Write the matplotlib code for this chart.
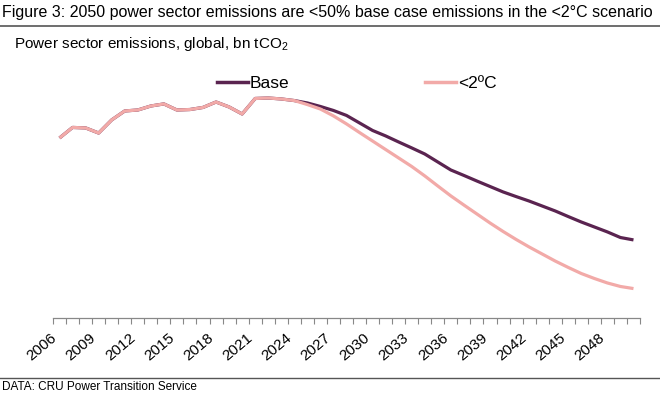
import numpy as np
import matplotlib.pyplot as plt
from matplotlib.lines import Line2D

plt.rcParams['font.family'] = ['Liberation Sans', 'DejaVu Sans']
plt.rcParams['mathtext.fontset'] = 'custom'
plt.rcParams['mathtext.rm'] = 'Liberation Sans'
plt.rcParams['mathtext.default'] = 'regular'

# dados (bn tCO2)
anos = list(range(2006, 2051))
historico = [11.25, 11.91, 11.88, 11.56, 12.38, 12.94, 13.0, 13.25, 13.38, 13.0,
             13.03, 13.16, 13.5, 13.19, 12.75, 13.72, 13.75, 13.69, 13.59]
base_proj = [13.44, 13.22, 12.97, 12.66, 12.19, 11.72, 11.38, 11.0, 10.63, 10.25,
             9.75, 9.25, 8.91, 8.56, 8.22, 7.88, 7.59, 7.31, 7.0, 6.69,
             6.34, 6.0, 5.69, 5.38, 5.03, 4.88]
abaixo2_proj = [13.34, 13.06, 12.63, 12.13, 11.59, 11.06, 10.53, 10.0, 9.47, 8.88,
                8.25, 7.63, 7.06, 6.5, 5.94, 5.41, 4.91, 4.44, 4.0, 3.56,
                3.16, 2.78, 2.47, 2.19, 1.97, 1.84]
base = historico + base_proj
abaixo2 = historico + abaixo2_proj
rotulos = list(range(2006, 2049, 3))

cor_base = '#5a2450'
cor_2c = '#f2aaa8'

fig = plt.figure(figsize=(6.6, 3.94), dpi=100)
W, H = 660, 394

# eixo principal em pixels da figura
esq, dir_, baixo, topo = 53, 640, 318, 70
ax = fig.add_axes([esq / W, 1 - baixo / H, (dir_ - esq) / W, (baixo - topo) / H])

ax.plot(anos, base, color=cor_base, lw=2.3, solid_joinstyle='round', solid_capstyle='butt')
ax.plot(anos, abaixo2, color=cor_2c, lw=2.3, solid_joinstyle='round', solid_capstyle='butt')

ax.set_xlim(2005.5, 2050.5)
ax.set_ylim(0, 15.5)
for s in ['top', 'right', 'left']:
    ax.spines[s].set_visible(False)
ax.spines['bottom'].set_color('#888888')
ax.spines['bottom'].set_linewidth(0.9)
ax.set_yticks([])

ax.set_xticks(rotulos)
ax.set_xticklabels([str(r) for r in rotulos], rotation=40, ha='right', fontsize=11)
ax.tick_params(axis='x', which='major', length=0, pad=9)
ax.set_xticks(np.arange(2005.5, 2051, 1), minor=True)
ax.tick_params(axis='x', which='minor', length=4, color='#888888', width=0.8)

# legenda
h1 = Line2D([], [], color=cor_base, lw=2.5)
h2 = Line2D([], [], color=cor_2c, lw=2.5)
fig.legend([h1, h2], ['Base', '<2ºC'], ncol=2, frameon=False, fontsize=12.5,
           loc='center left', bbox_to_anchor=(217 / W, 1 - 83 / H),
           handlelength=1.8, handletextpad=0.1, columnspacing=7.8, borderaxespad=0,
           borderpad=0)

# titulo, subtitulo e fonte
fig.text(2 / W, 1 - 12 / H, 'Figure 3: 2050 power sector emissions are <50% base case emissions in the <2°C scenario',
         fontsize=11.55, va='center', ha='left')
fig.add_artist(Line2D([0, 1], [1 - 25.5 / H, 1 - 25.5 / H], color='#555555', lw=1.2))
fig.text(14 / W, 1 - 44 / H, 'Power sector emissions, global, bn tCO$_2$', fontsize=11, va='center', ha='left')
fig.add_artist(Line2D([0, 1], [1 - 378 / H, 1 - 378 / H], color='#555555', lw=1.0))
fig.text(2 / W, 1 - 387.5 / H, 'DATA: CRU Power Transition Service', fontsize=8.5, va='center', ha='left')

fig.savefig('out.png', dpi=100)
